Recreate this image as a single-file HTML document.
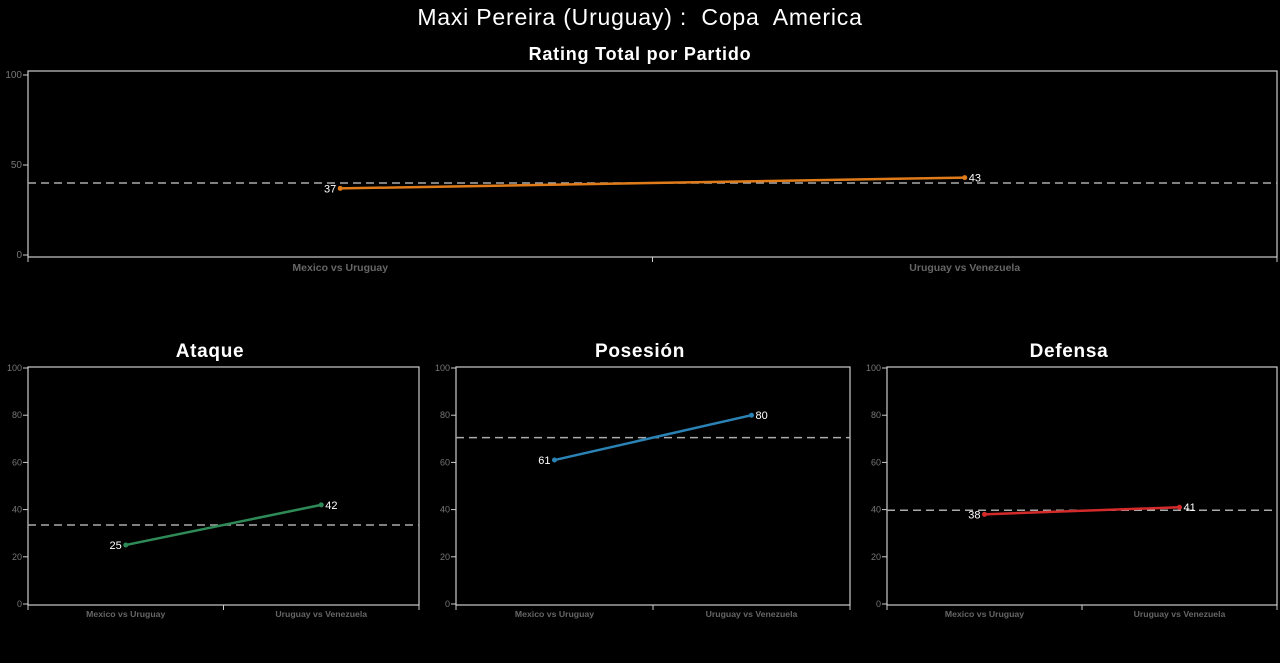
<!DOCTYPE html>
<html><head><meta charset="utf-8"><style>
html,body{margin:0;padding:0;background:#000;width:1280px;height:663px;overflow:hidden;font-family:"Liberation Sans",sans-serif}
</style></head><body>
<svg id="c" width="1280" height="663" xmlns="http://www.w3.org/2000/svg">
<text x="640" y="25" fill="#fff" font-size="23" letter-spacing="0.8" text-anchor="middle" style="white-space:pre" xml:space="preserve">Maxi Pereira (Uruguay) :  Copa  America</text>
</svg>
<script>
const categories = ["Mexico vs Uruguay", "Uruguay vs Venezuela"];
const totalValues = [37, 43];
const totalAvg = 40;
const ataqueValues = [25, 42];
const ataqueAvg = 33.5;
const posesionValues = [61, 80];
const posesionAvg = 70.5;
const defensaValues = [38, 41];
const defensaAvg = 39.7;
const totalTicks = [0, 50, 100];
const smallTicks = [0, 20, 40, 60, 80, 100];

const svg = document.getElementById('c');
const NS = 'http://www.w3.org/2000/svg';
function mk(tag, attrs, parent) {
  const e = document.createElementNS(NS, tag);
  for (const k in attrs) e.setAttribute(k, attrs[k]);
  (parent || svg).appendChild(e);
  return e;
}

function chart(o) {
  const g = mk('g', {});
  
  
  const y = v => o.y0 - (v / 100) * (o.y0 - o.y100);
  const bw = (o.x1 - o.x0) / categories.length;
  const x = i => o.x0 + bw * (i + 0.5);
  const t = mk('text', {x: o.tx, y: o.ty, fill: '#fff', 'font-size': o.titleSize, 'font-weight': 'bold', 'text-anchor': 'middle', 'letter-spacing': o.titleLs}, g);
  t.textContent = o.title;
  
  
  const box = mk('rect', {x: o.x0, y: o.top, width: o.x1 - o.x0, height: o.bot - o.top, fill: 'none', stroke: '#ccc', 'stroke-width': 1.2}, g);
  
  
  o.ticks.forEach(v => {
    mk('line', {x1: o.x0 - 5, x2: o.x0, y1: y(v), y2: y(v), stroke: '#ccc'}, g);
    const l = mk('text', {x: o.x0 - 6, y: y(v) + 3, fill: '#777', 'font-size': o.tickSize, 'text-anchor': 'end'}, g);
    l.textContent = v;
    
    
  });
  for (let i = 0; i <= categories.length; i++) {
    mk('line', {x1: o.x0 + bw * i, x2: o.x0 + bw * i, y1: o.bot, y2: o.bot + 5, stroke: '#ccc'}, g);
  }
  categories.forEach((c, i) => {
    const l = mk('text', {x: x(i), y: o.bot + o.xlOff, fill: '#666', 'font-size': o.xlSize, 'font-weight': 'bold', 'text-anchor': 'middle'}, g);
    l.textContent = c;
    
    
  });
  const avg = mk('line', {x1: o.x0, x2: o.x1, y1: y(o.avg), y2: y(o.avg), stroke: '#aaa', 'stroke-width': 1.5, 'stroke-dasharray': '8,5'}, g);
  
  
  const pts = o.values.map((v, i) => x(i) + ',' + y(v)).join(' ');
  const pl = mk('polyline', {points: pts, fill: 'none', stroke: o.color, 'stroke-width': 2.5}, g);
  
  
  o.values.forEach((v, i) => {
    const p = mk('circle', {cx: x(i), cy: y(v), r: 2.5, fill: o.color}, g);
    
    
    const first = i === 0;
    const l = mk('text', {x: x(i) + (first ? -4 : 4), y: y(v) + 4, fill: '#fff', 'font-size': 11, 'text-anchor': first ? 'end' : 'start'}, g);
    l.textContent = v;
    
    
  });
}

chart({name: 'rating-total-chart', title: 'Rating Total por Partido', tx: 640, ty: 60, titleSize: 18, titleLs: 0.8,
  x0: 28, x1: 1277, top: 71, bot: 257, y0: 255, y100: 75, ticks: totalTicks, tickSize: 10,
  xlSize: 10.5, xlOff: 14, values: totalValues, avg: totalAvg, color: '#e07b1a'});
chart({name: 'ataque-chart', title: 'Ataque', tx: 210, ty: 357, titleSize: 19, titleLs: 0.7,
  x0: 28, x1: 419, top: 367, bot: 605, y0: 604, y100: 368, ticks: smallTicks, tickSize: 9,
  xlSize: 8.7, xlOff: 12, values: ataqueValues, avg: ataqueAvg, color: '#2e8b57'});
chart({name: 'posesion-chart', title: 'Posesión', tx: 640, ty: 357, titleSize: 19, titleLs: 0.7,
  x0: 456, x1: 850, top: 367, bot: 605, y0: 604, y100: 368, ticks: smallTicks, tickSize: 9,
  xlSize: 8.7, xlOff: 12, values: posesionValues, avg: posesionAvg, color: '#2b82b5'});
chart({name: 'defensa-chart', title: 'Defensa', tx: 1069, ty: 357, titleSize: 19, titleLs: 0.7,
  x0: 887, x1: 1277, top: 367, bot: 605, y0: 604, y100: 368, ticks: smallTicks, tickSize: 9,
  xlSize: 8.7, xlOff: 12, values: defensaValues, avg: defensaAvg, color: '#d42a2a'});
</script>
</body></html>
